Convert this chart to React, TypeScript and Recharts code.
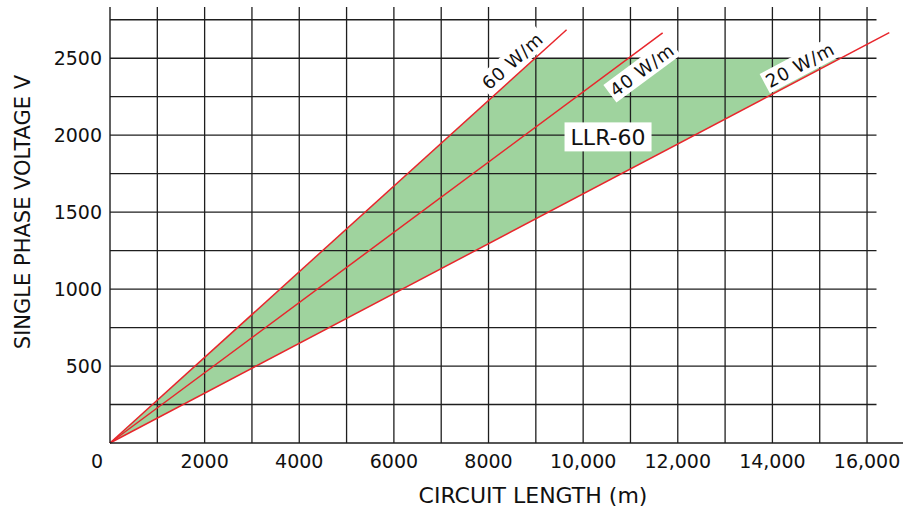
import {
  ComposedChart,
  Area,
  Line,
  XAxis,
  YAxis,
  ReferenceLine,
  ReferenceDot,
} from 'recharts';

// values
const lineNames = ['60 W/m', '40 W/m', '20 W/m'];
const lineEndX = [9650, 11680, 16470];
const lineEndY = [2685, 2665, 2666];

// shaded LLR-60 band: between the 20 W/m line and min(60 W/m line, 2500 V)
const fillX = [0, 8985, 15440];
const fillLow = [0, 1455, 2500];
const fillHigh = [0, 2500, 2500];

const xTicks = [0, 2000, 4000, 6000, 8000, 10000, 12000, 14000, 16000];
const yTicks = [500, 1000, 1500, 2000, 2500];
const xGrid = [1000, 2000, 3000, 4000, 5000, 6000, 7000, 8000, 9000, 10000, 11000, 12000, 13000, 14000, 15000, 16000];
const yGrid = [250, 500, 750, 1000, 1250, 1500, 1750, 2000, 2250, 2500, 2750];

const fillData = fillX.map((x, i) => ({ x, range: [fillLow[i], fillHigh[i]] }));
const lineData = lineNames.map((_, i) => [
  { x: 0, y: 0 },
  { x: lineEndX[i], y: lineEndY[i] },
]);

// annotation placement (data coords) and text angle
const lineLabelX = [8508, 11245, 14585];
const lineLabelY = [2482, 2424, 2456];
const lineLabelAngle = [42, 36.5, 28];

const FONT = 'DejaVu Sans';
const RED = '#e8262c';
const GRID = '#1e1e1e';

const fmtX = (v: number) => (v >= 10000 ? v.toLocaleString('en-US') : String(v));

const XTick = ({ x, y, payload }: any) => (
  <text
    x={payload.value === 0 ? x - 13 : x}
    y={y + 17}
    textAnchor="middle"
    fontFamily={FONT}
    fontSize={19}
    fill="#111"
  >
    {fmtX(payload.value)}
  </text>
);

const boxLabel = (text: string, angle: number, fontSize: number, w: number, h: number) =>
  (props: any) => (
    <g transform={`translate(${props.cx},${props.cy}) rotate(${-angle})`}>
      <rect x={-w / 2} y={-h / 2} width={w} height={h} fill="#fff" />
      <text
        x={0}
        y={0}
        dy="0.36em"
        textAnchor="middle"
        fontFamily={FONT}
        fontSize={fontSize}
        letterSpacing={angle ? 0.8 : 0}
        fill="#111"
      >
        {text}
      </text>
    </g>
  );

export default function App() {
  return (
    <div style={{ position: 'absolute', left: 0, top: 0, width: 912, height: 510, background: '#fff' }}>
      <ComposedChart
        width={912}
        height={510}
        data={fillData}
        margin={{ top: 7, right: 9, bottom: 0, left: 0 }}
      >
        <XAxis
          type="number"
          dataKey="x"
          domain={[0, 16760]}
          ticks={xTicks}
          height={67}
          tickLine={false}
          axisLine={{ stroke: GRID, strokeWidth: 1.4 }}
          tick={<XTick />}
          interval={0}
        />
        <YAxis
          type="number"
          domain={[0, 2833]}
          ticks={yTicks}
          width={110}
          tickLine={false}
          axisLine={{ stroke: GRID, strokeWidth: 1.4 }}
          tick={{ fontFamily: FONT, fontSize: 19, fill: '#111' }}
          interval={0}
        />
        <Area
          type="linear"
          dataKey="range"
          stroke="none"
          fill="#9fd39e"
          fillOpacity={1}
          isAnimationActive={false}
        />
        {xGrid.map((v) => (
          <ReferenceLine key={`vx${v}`} x={v} stroke={GRID} strokeWidth={1.3} />
        ))}
        {yGrid.map((v) => (
          <ReferenceLine
            key={`hy${v}`}
            segment={[{ x: 0, y: v }, { x: 16200, y: v }]}
            stroke={GRID}
            strokeWidth={1.3}
          />
        ))}
        {lineData.map((d, i) => (
          <Line
            key={lineNames[i]}
            data={d}
            dataKey="y"
            type="linear"
            stroke={RED}
            strokeWidth={1.5}
            dot={false}
            activeDot={false}
            isAnimationActive={false}
          />
        ))}
        {lineNames.map((n, i) => (
          <ReferenceDot
            key={`lbl${n}`}
            x={lineLabelX[i]}
            y={lineLabelY[i]}
            r={0}
            shape={boxLabel(n, lineLabelAngle[i], 18, 80, 22)}
          />
        ))}
        <ReferenceDot x={10526} y={1989} r={0} shape={boxLabel('LLR-60', 0, 22, 87, 29)} />
        <text x={533} y={503} textAnchor="middle" fontFamily={FONT} fontSize={22} fill="#111">
          CIRCUIT LENGTH (m)
        </text>
        <text
          x={0}
          y={0}
          transform="translate(30,212) rotate(-90)"
          textAnchor="middle"
          fontFamily={FONT}
          fontSize={21}
          fill="#111"
        >
          SINGLE PHASE VOLTAGE V
        </text>
      </ComposedChart>
    </div>
  );
}
